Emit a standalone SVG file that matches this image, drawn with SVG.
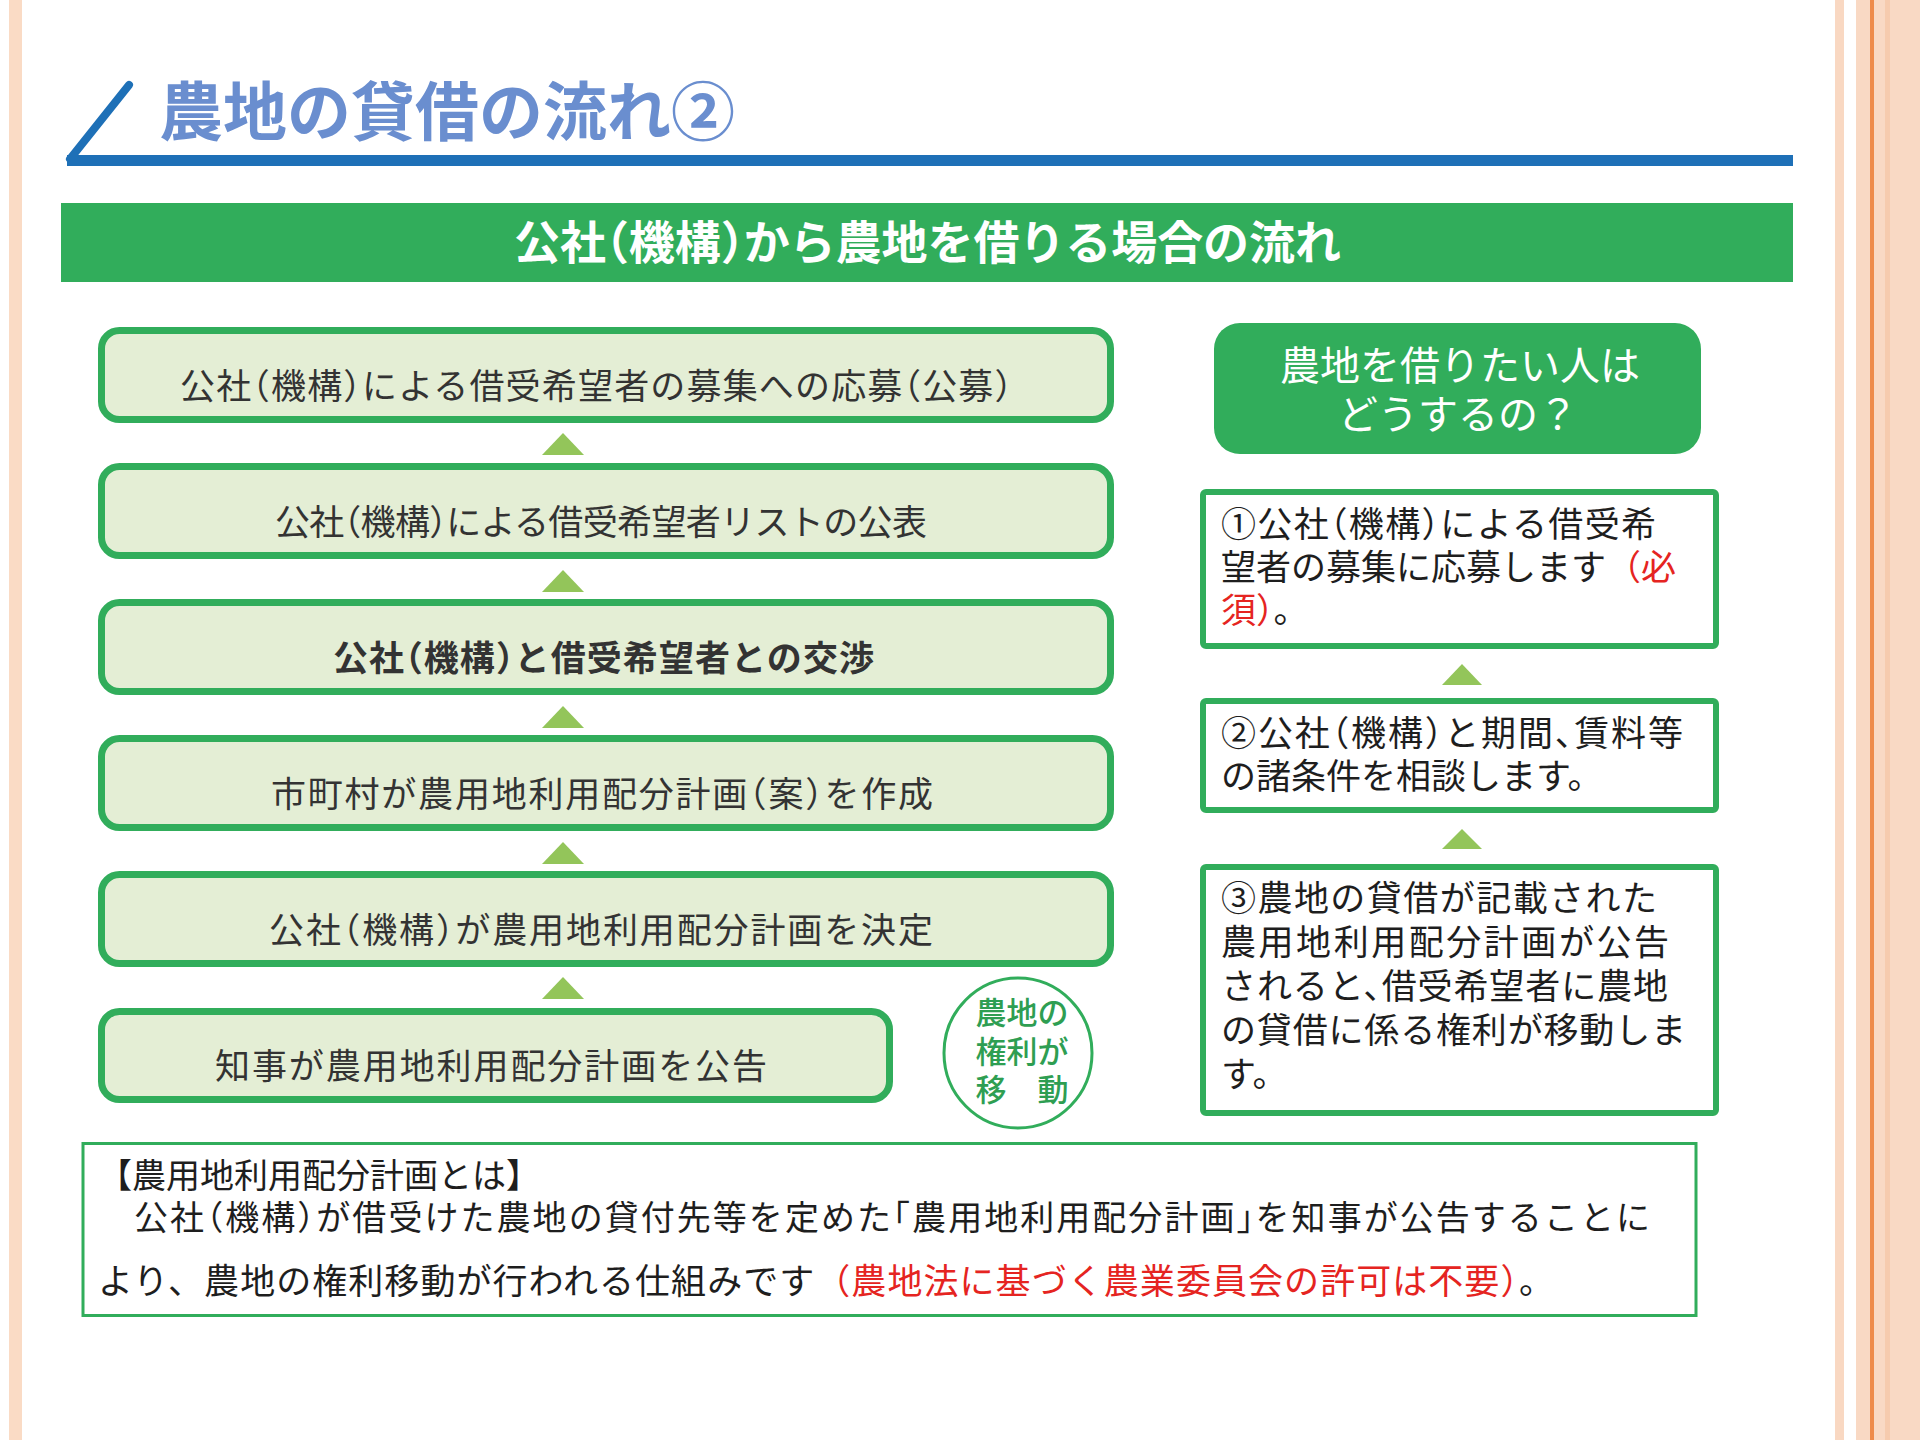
<svg xmlns="http://www.w3.org/2000/svg" width="1920" height="1440" viewBox="0 0 1920 1440">
<style>
text{font-family:"Noto Sans CJK JP","Noto Sans",sans-serif}
.h{font-feature-settings:"halt"}
.step{fill:#E4EED5;stroke:#31AD5B;stroke-width:7}
.steptxt{font-size:35px;fill:#333333;font-feature-settings:"halt"}
.rbox{fill:#FFFFFF;stroke:#31AD5B;stroke-width:6}
.rtxt{font-size:35px;fill:#1E1E1E}
.red{fill:#E52421}
.tri{fill:#93C55A}
</style>
<rect x="0" y="0" width="1920" height="1440" fill="#FFFFFF"/>
<!-- decorative side bands -->
<rect x="9" y="0" width="13" height="1440" fill="#FADBC5"/>
<rect x="1835" y="0" width="9" height="1440" fill="#F9D8C2"/>
<rect x="1856" y="0" width="64" height="1440" fill="#F9D9C4"/>
<rect x="1870" y="0" width="4" height="1440" fill="#EE8B4B"/>
<rect x="1885" y="0" width="5" height="1440" fill="#F6CBAE"/>

<g id="title">
<line x1="129" y1="85" x2="70" y2="159" stroke="#1E70B7" stroke-width="8" stroke-linecap="round"/>
<rect x="67" y="155" width="1726" height="11" fill="#1E70B7"/>
<text x="159" y="135" font-size="64" font-weight="bold" fill="#6A8ECF" textLength="576">農地の貸借の流れ②</text>
</g>

<g id="banner">
<rect x="61" y="203" width="1732" height="79" fill="#31AD5B"/>
<text class="h" x="514" y="259" font-size="46" font-weight="bold" fill="#FFFFFF" textLength="827">公社（機構）から農地を借りる場合の流れ</text>
</g>

<g id="step1">
<rect class="step" x="101.5" y="330.5" width="1009" height="89" rx="18"/>
<text class="steptxt" x="180" y="399" textLength="832">公社（機構）による借受希望者の募集への応募（公募）</text>
</g>
<g id="step2">
<rect class="step" x="101.5" y="466.5" width="1009" height="89" rx="18"/>
<text class="steptxt" x="275" y="535" textLength="652">公社（機構）による借受希望者リストの公表</text>
</g>
<g id="step3">
<rect class="step" x="101.5" y="602.5" width="1009" height="89" rx="18"/>
<text class="steptxt" x="333" y="671" font-weight="bold" fill="#222222" textLength="541">公社（機構）と借受希望者との交渉</text>
</g>
<g id="step4">
<rect class="step" x="101.5" y="738.5" width="1009" height="89" rx="18"/>
<text class="steptxt" x="271" y="807" textLength="662">市町村が農用地利用配分計画（案）を作成</text>
</g>
<g id="step5">
<rect class="step" x="101.5" y="874.5" width="1009" height="89" rx="18"/>
<text class="steptxt" x="269" y="943" textLength="664">公社（機構）が農用地利用配分計画を決定</text>
</g>
<g id="step6">
<rect class="step" x="101.5" y="1011.5" width="788" height="88" rx="18"/>
<text class="steptxt" x="215" y="1079" font-size="36" textLength="552">知事が農用地利用配分計画を公告</text>
</g>

<g id="transfer-circle">
<ellipse cx="1018" cy="1053" rx="74" ry="75" fill="#FFFFFF" stroke="#31AD5B" stroke-width="3"/>
<g font-size="31" fill="#2E9E52" font-weight="500" text-anchor="middle">
<text x="1022" y="1024">農地の</text>
<text x="1022" y="1063">権利が</text>
<text x="1022" y="1101">移　動</text>
</g>
</g>

<g id="question">
<rect x="1214" y="323" width="487" height="131" rx="26" fill="#31AD5B"/>
<g font-size="40" fill="#FFFFFF" text-anchor="middle">
<text x="1460" y="380">農地を借りたい人は</text>
<text x="1458" y="429">どうするの？</text>
</g>
</g>

<g id="r1">
<rect class="rbox" x="1203" y="492" width="513" height="154" rx="3"/>
<text class="rtxt h" x="1221" y="537" textLength="435">①公社（機構）による借受希</text>
<text class="rtxt" x="1221" y="580" textLength="455">望者の募集に応募します<tspan class="red">（必</tspan></text>
<text class="rtxt" x="1221" y="623"><tspan class="red">須）</tspan>。</text>
</g>
<g id="r2">
<rect class="rbox" x="1203" y="701" width="513" height="109" rx="3"/>
<text class="rtxt h" x="1221" y="746" textLength="462">②公社（機構）と期間、賃料等</text>
<text class="rtxt" x="1221" y="789">の諸条件を相談します。</text>
</g>
<g id="r3">
<rect class="rbox" x="1203" y="867" width="513" height="246" rx="3"/>
<g class="rtxt" font-size="36">
<text x="1221" y="911" textLength="436">③農地の貸借が記載された</text>
<text x="1221" y="955" textLength="448">農用地利用配分計画が公告</text>
<text class="h" x="1221" y="999" textLength="447">されると、借受希望者に農地</text>
<text x="1221" y="1043" textLength="465">の貸借に係る権利が移動しま</text>
<text x="1221" y="1087">す。</text>
</g>
</g>

<g id="note">
<rect x="83" y="1143.5" width="1613" height="172" fill="#FFFFFF" stroke="#31AD5B" stroke-width="3"/>
<g font-size="34" fill="#1E1E1E">
<text x="98" y="1188">【農用地利用配分計画とは】</text>
<text class="h" x="98" y="1230" textLength="1552">　公社（機構）が借受けた農地の貸付先等を定めた「農用地利用配分計画」を知事が公告することに</text>
<text x="98" y="1294" font-size="35" textLength="1456">より、農地の権利移動が行われる仕組みです<tspan class="red">（農地法に基づく農業委員会の許可は不要）</tspan>。</text>
</g>
</g>

<g id="connectors">
<polygon class="tri" points="542,455 584,455 563,433"/>
<polygon class="tri" points="542,592 584,592 563,570"/>
<polygon class="tri" points="542,728 584,728 563,706"/>
<polygon class="tri" points="542,864 584,864 563,842"/>
<polygon class="tri" points="542,999 584,999 563,977"/>
<polygon class="tri" points="1442,685 1482,685 1462,664"/>
<polygon class="tri" points="1442,849 1482,849 1462,829"/>
</g>
</svg>
